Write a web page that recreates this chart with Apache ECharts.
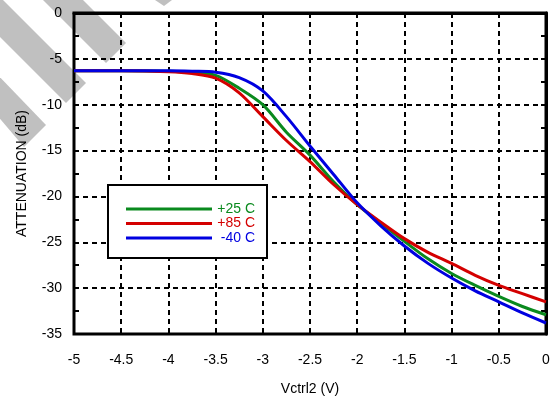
<!DOCTYPE html>
<html>
<head>
<meta charset="utf-8">
<title>Attenuation vs Vctrl2</title>
<script src="https://cdn.jsdelivr.net/npm/echarts@6/dist/echarts.min.js"></script>
</head>
<body style="margin:0;background:#fff">
<div id="main" style="width:557px;height:402px;"></div>
<script>
// Vctrl2 (V)
var vctrl = [-5, -4.5, -4, -3.75, -3.5, -3.25, -3, -2.75, -2.5, -2.25, -2, -1.75, -1.5, -1.25, -1, -0.75, -0.5, -0.25, 0];
// attenuation (dB) per temperature
var att25 = [-6.3, -6.3, -6.35, -6.45, -6.8, -8.2, -10.0, -13.0, -15.5, -18.4, -20.9, -22.9, -24.9, -26.8, -28.4, -29.7, -30.9, -32.0, -32.9];
var att85 = [-6.3, -6.3, -6.4, -6.6, -7.1, -8.7, -11.3, -13.9, -16.2, -18.7, -20.9, -22.8, -24.6, -26.1, -27.3, -28.6, -29.7, -30.6, -31.5];
var attM40 = [-6.3, -6.3, -6.3, -6.35, -6.45, -7.05, -8.5, -11.3, -14.5, -17.6, -20.7, -23.2, -25.4, -27.3, -28.9, -30.3, -31.5, -32.7, -33.8];
var names = ['+25 C', '+85 C', '-40 C'];
var colors = ['#0a8a1e', '#d40000', '#0000e0'];

function pairs(ys) {
    var out = [];
    for (var i = 0; i < vctrl.length; i++) out.push([vctrl[i], ys[i]]);
    return out;
}

// grey watermark stripes
var grey = '#c0c0c0';
function stripe(pts) {
    return { type: 'polygon', z: -10, shape: { points: pts }, style: { fill: grey } };
}

var font = 'Liberation Sans, Arial, sans-serif';
var dash = { color: '#000', width: 2, type: [5, 4] };
var tickStyle = { color: '#000', width: 2 };

// extra y axis: only the 2.5 dB ticks along a border
function tickAxis(pos) {
    return {
        type: 'value', min: -35, max: 0, interval: 2.5, position: pos, offset: 0,
        axisLine: { show: false },
        axisTick: { show: true, inside: true, length: 5, lineStyle: tickStyle },
        axisLabel: { show: false },
        splitLine: { show: false }
    };
}

var chart = echarts.init(document.getElementById('main'));
var option = {
    animation: false,
    textStyle: { fontFamily: font },
    graphic: [
        stripe([[140, -10], [165, -10], [172, 0], [164, 6]]),
        stripe([[33, -10], [73, -10], [126, 43], [106, 63]]),
        stripe([[-10, -13], [-10, 27], [66, 103], [86, 83]]),
        stripe([[-10, 67], [-10, 107], [24, 147], [46, 125]]),
        stripe([[-10, 150], [-10, 190], [0, 178], [0, 160]])
    ],
    grid: {
        left: 74, right: 11, top: 13, bottom: 68,
        show: true, borderColor: '#000', borderWidth: 3
    },
    legend: {
        orient: 'vertical',
        left: 108, top: 185,
        padding: [17, 12, 13, 18],
        backgroundColor: '#fff',
        borderColor: '#000', borderWidth: 2, borderRadius: 0,
        icon: 'rect',
        itemWidth: 86, itemHeight: 3, itemGap: 0.5,
        itemStyle: { borderWidth: 0 },
        formatter: function (n) { return '{r|' + n + '}'; },
        textStyle: {
            fontSize: 14, lineHeight: 14,
            rich: { r: { width: 38, align: 'right', fontSize: 14, lineHeight: 14 } }
        },
        data: names.map(function (n, i) {
            return { name: n, textStyle: { color: colors[i], rich: { r: { color: colors[i] } } } };
        })
    },
    xAxis: [{
        type: 'value', min: -5, max: 0, interval: 0.5,
        name: 'Vctrl2 (V)', nameLocation: 'middle', nameGap: 48,
        nameTextStyle: { fontSize: 14, color: '#000' },
        axisLine: { lineStyle: { color: '#000', width: 3 } },
        axisTick: { show: false },
        axisLabel: { fontSize: 14, color: '#000', margin: 19 },
        splitLine: { show: true, lineStyle: dash }
    }],
    yAxis: [{
        type: 'value', min: -35, max: 0, interval: 5,
        name: 'ATTENUATION (dB)', nameLocation: 'middle', nameGap: 45, nameRotate: 90,
        nameTextStyle: { fontSize: 14, color: '#000' },
        axisLine: { lineStyle: { color: '#000', width: 3 } },
        axisTick: { show: false },
        axisLabel: { fontSize: 14, color: '#000', margin: 12 },
        splitLine: { show: true, lineStyle: dash }
    }, tickAxis('left'), tickAxis('right')],
    series: [att25, att85, attM40].map(function (ys, i) {
        return {
            name: names[i], type: 'line', smooth: 0.3,
            showSymbol: false, symbol: 'none',
            color: colors[i],
            lineStyle: { width: 3, color: colors[i] },
            data: pairs(ys)
        };
    })
};
chart.setOption(option);
</script>
</body>
</html>
